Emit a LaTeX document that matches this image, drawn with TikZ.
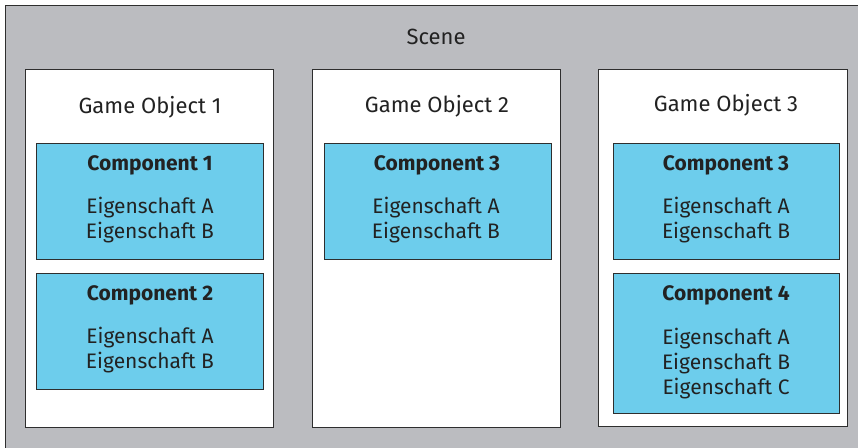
\documentclass[tikz,border=0pt]{standalone}
\usepackage{fontspec}
\setmainfont{Fira Sans}
\definecolor{scenegray}{HTML}{BBBCC0}
\definecolor{compblue}{HTML}{6DCDEC}
\definecolor{edgec}{HTML}{2E2E2E}
\definecolor{textc}{HTML}{222222}
\begin{document}
\begin{tikzpicture}[x=1pt,y=-1pt,
  every node/.style={inner sep=0pt, outer sep=0pt},
  boxbase/.style={rectangle, anchor=north west, draw=edgec, line width=0.8pt},
  scenebox/.style={boxbase, fill=scenegray},
  gobox/.style={boxbase, fill=white},
  compbox/.style={boxbase, fill=compblue},
  label/.style={text=textc, font=\fontsize{22}{25}\selectfont, align=center, anchor=base},
  comptitle/.style={label, font=\fontsize{21}{25}\selectfont\bfseries},
  props/.style={label, font=\fontsize{21}{25}\selectfont}
]
\useasboundingbox (0,0) rectangle (858,447);

% scene frame (runs past the right and bottom edges)
\node[scenebox, minimum width=900pt, minimum height=500pt] (scene) at (5,5) {};
\node[label] (scenet) at (436,44) {Scene};

% game objects
\node[gobox, minimum width=248pt, minimum height=358pt] (go1) at (25,69) {};
\node[gobox, minimum width=248pt, minimum height=358pt] (go2) at (312,69) {};
\node[gobox, minimum width=249pt, minimum height=357pt] (go3) at (598,69) {};
\node[label] (go1t) at (150,113) {Game Object 1};
\node[label] (go2t) at (437,112) {Game Object 2};
\node[label] (go3t) at (726,111) {Game Object 3};

% components (property lists are placed by the baseline of their last line)
\node[compbox, minimum width=227pt, minimum height=116pt] (c11) at (36,143) {};
\node[compbox, minimum width=227pt, minimum height=116pt] (c12) at (36,273) {};
\node[compbox, minimum width=227pt, minimum height=116pt] (c21) at (324,143) {};
\node[compbox, minimum width=226pt, minimum height=116pt] (c31) at (613,143) {};
\node[compbox, minimum width=226pt, minimum height=140pt] (c32) at (613,273) {};

\node[comptitle] (c11t) at (150,170) {Component 1};
\node[props] (c11p) at (150,238) {Eigenschaft A\\Eigenschaft B};
\node[comptitle] (c12t) at (150,300) {Component 2};
\node[props] (c12p) at (150,368) {Eigenschaft A\\Eigenschaft B};
\node[comptitle] (c21t) at (437,170) {Component 3};
\node[props] (c21p) at (436,238) {Eigenschaft A\\Eigenschaft B};
\node[comptitle] (c31t) at (726,170) {Component 3};
\node[props] (c31p) at (726,238) {Eigenschaft A\\Eigenschaft B};
\node[comptitle] (c32t) at (726,300) {Component 4};
\node[props] (c32p) at (726,394) {Eigenschaft A\\Eigenschaft B\\Eigenschaft C};
\end{tikzpicture}
\end{document}
